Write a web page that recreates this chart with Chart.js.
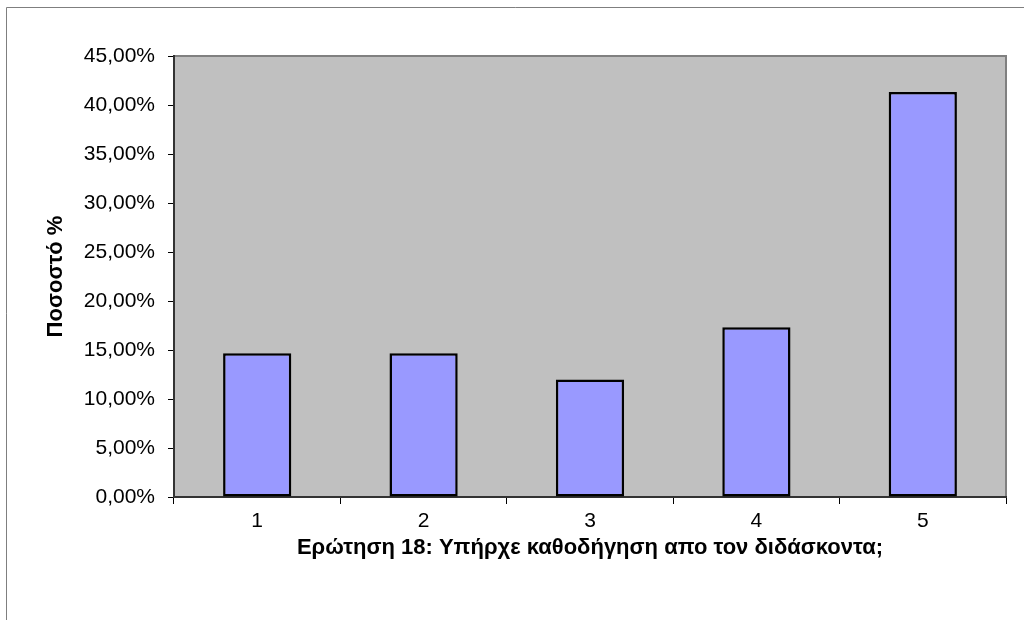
<!DOCTYPE html>
<html>
<head>
<meta charset="utf-8">
<script src="https://cdn.jsdelivr.net/npm/chart.js@4/dist/chart.umd.min.js"></script>
<style>
  html, body { margin:0; padding:0; background:#fff; }
  #wrap { width:1024px; height:620px; position:relative; }
</style>
</head>
<body>
<div id="wrap"><canvas id="chartQ18" width="1024" height="620"></canvas></div>
<script>
// Ερώτηση 18 — ποσοστά απαντήσεων
const categories = ['1', '2', '3', '4', '5'];
const percentages = [14.67, 14.67, 12.00, 17.33, 41.33];
const yTicks = [0, 5, 10, 15, 20, 25, 30, 35, 40, 45];

const FONT = 'Liberation Sans, Arial, Helvetica, sans-serif';

function pctFmt(v) { return v.toFixed(2).replace('.', ',') + '%'; }

// γκρι φόντο περιοχής σχεδίασης + πλαίσιο
const plotBg = {
  id: 'plotBg',
  beforeDraw(chart) {
    const { ctx, chartArea: a } = chart;
    ctx.save();
    // εξωτερικό πλαίσιο (αριστερά / πάνω)
    ctx.strokeStyle = '#7f7f7f'; ctx.lineWidth = 1;
    ctx.beginPath(); ctx.moveTo(6.5, 620); ctx.lineTo(6.5, 7.5); ctx.lineTo(1024, 7.5); ctx.stroke();
    ctx.fillStyle = '#c0c0c0';
    ctx.fillRect(a.left, a.top, a.right - a.left, a.bottom - a.top);
    ctx.strokeStyle = '#808080'; ctx.lineWidth = 2;
    ctx.beginPath(); ctx.moveTo(a.left, a.top); ctx.lineTo(a.right, a.top); ctx.lineTo(a.right, a.bottom); ctx.stroke();
    ctx.restore();
  }
};

new Chart(document.getElementById('chartQ18'), {
  type: 'bar',
  data: {
    labels: categories,
    datasets: [{
      data: percentages,
      backgroundColor: '#9999ff',
      borderColor: '#000',
      borderWidth: 2.5,
      borderSkipped: false,
      barPercentage: 0.41,
      categoryPercentage: 1,
    }],
  },
  options: {
    responsive: false,
    animation: false,
    layout: { padding: { top: 56, right: 18, left: 0, bottom: 0 } },
    plugins: { legend: { display: false }, tooltip: { enabled: false } },
    scales: {
      x: {
        offset: true,
        grid: { offset: true, drawOnChartArea: false, drawTicks: true, tickLength: 7, color: '#000', lineWidth: 1 },
        border: { display: true, color: '#333', width: 2 },
        ticks: { color: '#000', font: { family: FONT, size: 21 }, padding: 5 },
        title: { display: true, text: 'Ερώτηση 18: Υπήρχε καθοδήγηση απο τον διδάσκοντα;', color: '#000',
                 font: { family: FONT, size: 22, weight: 'bold' }, padding: { top: 0, bottom: 59 } },
        afterFit(s) { s.height = 123; },
      },
      y: {
        min: 0, max: 45,
        afterBuildTicks(s) { s.ticks = yTicks.map(v => ({ value: v })); },
        grid: { drawOnChartArea: false, drawTicks: true, tickLength: 6, color: '#000', lineWidth: 1 },
        border: { display: true, color: '#333', width: 2 },
        ticks: { color: '#000', font: { family: FONT, size: 21 }, padding: 13, callback: v => pctFmt(v) },
        title: { display: true, text: 'Ποσοστό %', color: '#000',
                 font: { family: FONT, size: 22, weight: 'bold' }, padding: { top: 43, bottom: 0 } },
        afterFit(s) { s.width = 174; },
      },
    },
  },
  plugins: [plotBg],
});
</script>
</body>
</html>
